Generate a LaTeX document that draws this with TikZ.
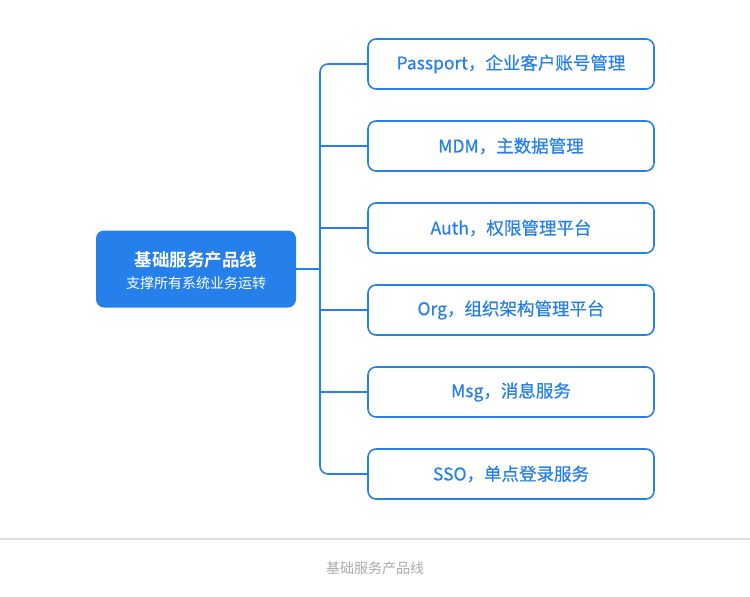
\documentclass[tikz,border=0pt]{standalone}
\usepackage{fontspec}
\setmainfont{Noto Sans CJK SC}[BoldFont={Noto Sans CJK SC Bold}]
\newfontfamily\medfont{Noto Sans CJK SC}[FakeBold=0.6]
\usetikzlibrary{positioning}
\definecolor{mblue}{HTML}{2680EB}
\definecolor{capgray}{HTML}{AAAAAA}
\definecolor{sepgray}{HTML}{DDDDDD}
\tikzset{
  x=1pt,y=-1pt,
  leaf/.style={draw=mblue,line width=1.6pt,rounded corners=8pt,fill=white,minimum width=286pt,minimum height=50pt,inner sep=0pt,text=mblue,font=\medfont\fontsize{17.5}{20}\selectfont},
  rootbox/.style={fill=mblue,rounded corners=8pt,minimum width=200pt,minimum height=77pt,inner sep=0pt,text=white,align=center},
  link/.style={draw=mblue,line width=1.6pt},
}
\begin{document}
\begin{tikzpicture}
\useasboundingbox (0,0) rectangle (750,597);
\node[rootbox] (root) at (196,269) {};
\node[text=white,font=\bfseries\fontsize{17.5}{20}\selectfont] (t1) at (196,260) {基础服务产品线};
\node[text=white,font=\fontsize{14}{16}\selectfont] (t2) at (196,283) {支撑所有系统业务运转};
\node[leaf] (l1) at (511,64) {\raisebox{-1pt}{Passport，企业客户账号管理}};
\node[leaf] (l2) at (511,146) {\raisebox{-1pt}{MDM，主数据管理}};
\node[leaf] (l3) at (511,228) {\raisebox{-1pt}{Auth，权限管理平台}};
\node[leaf] (l4) at (511,310) {\raisebox{-1pt}{Org，组织架构管理平台}};
\node[leaf] (l5) at (511,392) {\raisebox{-1pt}{Msg，消息服务}};
\node[leaf] (l6) at (511,474) {\raisebox{-1pt}{SSO，单点登录服务}};
\coordinate (trunk) at (320,269);
\draw[link] (root.east) -- (trunk);
\draw[link,rounded corners=8pt] (l1.west) -| (trunk) |- (l6.west);
\foreach \n in {l2,l3,l4,l5} \draw[link] (\n.west) -- (trunk |- \n.west);
\draw[sepgray,line width=1.2pt] (0,539) -- (750,539);
\node[text=capgray,font=\fontsize{14}{16}\selectfont] (cap) at (375,568) {基础服务产品线};
\end{tikzpicture}
\end{document}
